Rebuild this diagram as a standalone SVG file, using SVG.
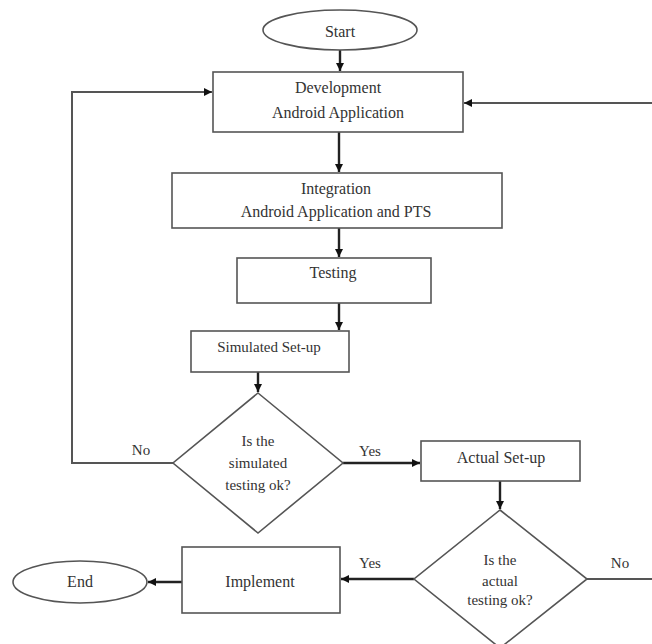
<svg xmlns="http://www.w3.org/2000/svg" width="652" height="644" viewBox="0 0 652 644">
<style>
.box{fill:#fff;stroke:#555;stroke-width:1.6}
.t{font-family:"Liberation Serif","Times New Roman",serif;font-size:16px;fill:#333;text-anchor:middle}
.s{font-size:15px}
.c{fill:none;stroke:#222;stroke-width:2.4}
.c2{fill:none;stroke:#555;stroke-width:2}
</style>
<defs>
<marker id="ah" viewBox="0 0 10 10" refX="10" refY="5" markerWidth="9" markerHeight="8" markerUnits="userSpaceOnUse" orient="auto">
<path d="M0,0 L10,5 L0,10 z" fill="#111"/>
</marker>
</defs>
<rect width="652" height="644" fill="#fff"/>
<g id="connectors">
<path class="c" d="M340,50 V71" marker-end="url(#ah)"/>
<path class="c" d="M339,132 V172" marker-end="url(#ah)"/>
<path class="c" d="M339,228 V257" marker-end="url(#ah)"/>
<path class="c" d="M339,303 V330" marker-end="url(#ah)"/>
<path class="c" d="M258,372 V392" marker-end="url(#ah)"/>
<path class="c2" d="M173,463 H72 V92 H212" marker-end="url(#ah)"/>
<path class="c" d="M343,463 H420" marker-end="url(#ah)"/>
<path class="c" d="M500,481 V509" marker-end="url(#ah)"/>
<path class="c" d="M414,579 H341" marker-end="url(#ah)"/>
<path class="c" d="M182,582 H148" marker-end="url(#ah)"/>
<path class="c2" d="M587,579 H660 V103 H464" marker-end="url(#ah)"/>
</g>
<g id="start"><ellipse class="box" cx="340" cy="30" rx="77" ry="20"/><text class="t" x="340" y="37">Start</text></g>
<g id="development"><rect class="box" x="213" y="72" width="250" height="60"/><text class="t" x="338" y="93">Development</text><text class="t" x="338" y="118">Android Application</text></g>
<g id="integration"><rect class="box" x="172" y="173" width="330" height="55"/><text class="t" x="336" y="194">Integration</text><text class="t" x="336" y="217">Android Application and PTS</text></g>
<g id="testing"><rect class="box" x="237" y="258" width="194" height="45"/><text class="t" x="333" y="278">Testing</text></g>
<g id="simulated"><rect class="box" x="191" y="331" width="158" height="41"/><text class="t s" x="269" y="352">Simulated Set-up</text></g>
<g id="decision1"><polygon class="box" points="258,393 343,463 258,533 173,463"/><text class="t s" x="258" y="446">Is the</text><text class="t s" x="258" y="468">simulated</text><text class="t s" x="258" y="490">testing ok?</text></g>
<g id="actual"><rect class="box" x="421" y="441" width="159" height="40"/><text class="t" x="501" y="463">Actual Set-up</text></g>
<g id="decision2"><polygon class="box" points="500,510 587,579 500,648 414,579"/><text class="t s" x="500" y="565">Is the</text><text class="t s" x="500" y="586">actual</text><text class="t s" x="500" y="605">testing ok?</text></g>
<g id="implement"><rect class="box" x="182" y="547" width="158" height="66"/><text class="t" x="260" y="587">Implement</text></g>
<g id="end"><ellipse class="box" cx="80" cy="582" rx="67" ry="21"/><text class="t" x="80" y="587">End</text></g>
<g id="labels">
<text class="t s" x="141" y="455">No</text>
<text class="t s" x="370" y="456">Yes</text>
<text class="t s" x="370" y="568">Yes</text>
<text class="t s" x="620" y="568">No</text>
</g>
</svg>
